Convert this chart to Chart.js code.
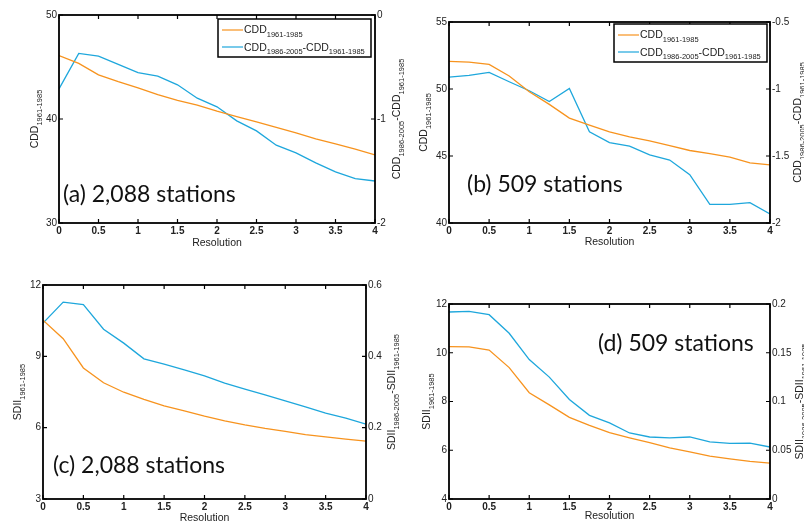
<!DOCTYPE html>
<html>
<head>
<meta charset="utf-8">
<script src="https://cdn.jsdelivr.net/npm/chart.js@4.4.1/dist/chart.umd.min.js"></script>
<style>
  html, body { margin: 0; padding: 0; background: #fff; }
  #wrap { position: relative; width: 804px; height: 524px; overflow: hidden; }
  #wrap canvas { position: absolute; left: 0; top: 0; }
</style>
</head>
<body>
<div id="wrap"></div>
<script>
// resolution (degrees) - shared x values
const resolution = [0, 0.25, 0.5, 0.75, 1, 1.25, 1.5, 1.75, 2, 2.25, 2.5, 2.75, 3, 3.25, 3.5, 3.75, 4];
const xTicks = [0, 0.5, 1, 1.5, 2, 2.5, 3, 3.5, 4];

// (a) 2,088 stations
const cddA = [46.1, 45.35, 44.25, 43.6, 43.0, 42.35, 41.8, 41.33, 40.75, 40.24, 39.73, 39.2, 38.67, 38.1, 37.6, 37.1, 36.55];
const cddDiffA = [-0.71, -0.37, -0.395, -0.475, -0.555, -0.587, -0.671, -0.80, -0.883, -1.018, -1.114, -1.252, -1.326, -1.422, -1.509, -1.573, -1.596];
const ticksA = [30, 40, 50];
const ticksA2 = [-2, -1, 0];

// (b) 509 stations
const cddB = [52.06, 52.0, 51.84, 50.97, 49.8, 48.85, 47.83, 47.3, 46.8, 46.43, 46.13, 45.78, 45.41, 45.18, 44.91, 44.49, 44.34];
const cddDiffB = [-0.911, -0.899, -0.876, -0.946, -1.013, -1.093, -0.996, -1.32, -1.40, -1.427, -1.492, -1.53, -1.639, -1.861, -1.861, -1.848, -1.933];
const ticksB = [40, 45, 50, 55];
const ticksB2 = [-2, -1.5, -1, -0.5];

// (c) 2,088 stations
const sdiiC = [10.52, 9.74, 8.51, 7.89, 7.49, 7.19, 6.92, 6.71, 6.49, 6.29, 6.12, 5.97, 5.84, 5.71, 5.61, 5.52, 5.43];
const sdiiDiffC = [0.493, 0.552, 0.545, 0.476, 0.437, 0.393, 0.378, 0.362, 0.345, 0.325, 0.308, 0.292, 0.275, 0.258, 0.241, 0.227, 0.21];
const ticksC = [3, 6, 9, 12];
const ticksC2 = [0, 0.2, 0.4, 0.6];

// (d) 509 stations
const sdiiD = [10.25, 10.24, 10.11, 9.39, 8.36, 7.86, 7.35, 7.02, 6.72, 6.51, 6.31, 6.1, 5.93, 5.76, 5.65, 5.54, 5.47];
const sdiiDiffD = [0.1918, 0.1925, 0.189, 0.170, 0.143, 0.125, 0.102, 0.0858, 0.078, 0.0677, 0.0636, 0.0626, 0.0636, 0.0585, 0.057, 0.0574, 0.0533];
const ticksD = [4, 6, 8, 10, 12];
const ticksD2 = [0, 0.05, 0.1, 0.15, 0.2];

const ORANGE = '#f7931e';
const BLUE = '#1ea7dc';
const TXT = '#222';
const MAIN = '10.5px "Liberation Sans", Arial, sans-serif';
const SUB = '7.5px "Liberation Sans", Arial, sans-serif';

// draw text made of normal + subscript parts
function richWidth(ctx, parts) {
  let w = 0;
  parts.forEach(p => { ctx.font = p[1] ? SUB : MAIN; w += ctx.measureText(p[0]).width; });
  return w;
}
function drawRich(ctx, parts, x, y, rot, align) {
  ctx.save();
  ctx.translate(x, y);
  ctx.rotate(rot);
  ctx.textBaseline = 'alphabetic';
  ctx.textAlign = 'left';
  ctx.fillStyle = TXT;
  let cx = align === 'left' ? 0 : -richWidth(ctx, parts) / 2;
  parts.forEach(p => {
    ctx.font = p[1] ? SUB : MAIN;
    ctx.fillText(p[0], cx, p[1] ? 3.5 : 0);
    cx += ctx.measureText(p[0]).width;
  });
  ctx.restore();
}

const matlabBox = {
  id: 'matlabBox',
  afterDraw(chart, args, o) {
    const ctx = chart.ctx, a = chart.chartArea;
    const sx = chart.scales.x, yl = chart.scales.y, yr = chart.scales.y1;
    ctx.save();
    ctx.strokeStyle = '#000';
    ctx.lineWidth = 1.2;
    ctx.beginPath();
    sx.ticks.forEach(t => {
      const p = sx.getPixelForValue(t.value);
      ctx.moveTo(p, a.bottom); ctx.lineTo(p, a.bottom - 4);
      ctx.moveTo(p, a.top); ctx.lineTo(p, a.top + 4);
    });
    yl.ticks.forEach(t => {
      const p = yl.getPixelForValue(t.value);
      ctx.moveTo(a.left, p); ctx.lineTo(a.left + 4, p);
    });
    yr.ticks.forEach(t => {
      const p = yr.getPixelForValue(t.value);
      ctx.moveTo(a.right, p); ctx.lineTo(a.right - 4, p);
    });
    ctx.stroke();
    ctx.lineWidth = 1.8;
    ctx.strokeRect(a.left, a.top, a.right - a.left, a.bottom - a.top);

    // axis titles
    const midY = (a.top + a.bottom) / 2;
    drawRich(ctx, o.leftTitle, o.leftX, midY, -Math.PI / 2);
    drawRich(ctx, o.rightTitle, o.rightX, midY, -Math.PI / 2);
    drawRich(ctx, [['Resolution', false]], (a.left + a.right) / 2, o.xTitleY, 0);

    // legend
    if (o.legend) {
      const L = o.legend;
      ctx.fillStyle = '#fff';
      ctx.fillRect(L.x, L.y, 153, 38);
      ctx.lineWidth = 1.5;
      ctx.strokeStyle = '#000';
      ctx.strokeRect(L.x, L.y, 153, 38);
      const rows = [
        [ORANGE, [['CDD', false], ['1961-1985', true]], 11, 14],
        [BLUE, [['CDD', false], ['1986-2005', true], ['-CDD', false], ['1961-1985', true]], 28, 31.5]
      ];
      rows.forEach(r => {
        ctx.strokeStyle = r[0];
        ctx.lineWidth = 1.2;
        ctx.beginPath();
        ctx.moveTo(L.x + 4, L.y + r[2]); ctx.lineTo(L.x + 25, L.y + r[2]);
        ctx.stroke();
        drawRich(ctx, r[1], L.x + 26, L.y + r[3], 0, 'left');
      });
    }

    // panel label
    ctx.fillStyle = '#111';
    ctx.font = '23px Lato, "Open Sans", sans-serif';
    ctx.textAlign = 'left';
    ctx.textBaseline = 'alphabetic';
    ctx.fillText(o.tag, o.tagX, o.tagY);
    ctx.restore();
  }
};

function fixedTicks(arr) {
  return s => { s.ticks = arr.map(v => ({ value: v })); };
}
const fmt = v => String(parseFloat(Number(v).toFixed(3)));

function makePanel(p) {
  const cv = document.createElement('canvas');
  cv.width = 804; cv.height = 524;
  document.getElementById('wrap').appendChild(cv);
  const tickFont = { family: '"Liberation Sans", Arial, sans-serif', size: 10 };
  const noGrid = { display: false, drawTicks: false, tickLength: 0 };
  new Chart(cv.getContext('2d'), {
    type: 'line',
    data: {
      datasets: [
        {
          data: resolution.map((r, i) => ({ x: r, y: p.orange[i] })),
          borderColor: ORANGE, borderWidth: 1.3, pointRadius: 0, yAxisID: 'y'
        },
        {
          data: resolution.map((r, i) => ({ x: r, y: p.blue[i] })),
          borderColor: BLUE, borderWidth: 1.3, pointRadius: 0, yAxisID: 'y1'
        }
      ]
    },
    options: {
      responsive: false,
      animation: false,
      devicePixelRatio: 1,
      layout: {
        padding: { left: p.left - 30, right: 804 - p.right - 30, top: p.top, bottom: 524 - p.bottom - 20 }
      },
      plugins: {
        legend: { display: false },
        tooltip: { enabled: false },
        matlabBox: p.box
      },
      scales: {
        x: {
          type: 'linear', min: 0, max: 4,
          afterBuildTicks: fixedTicks(xTicks),
          afterFit: s => { s.height = 20; },
          grid: noGrid,
          border: { display: false },
          ticks: { color: TXT, padding: 2, maxRotation: 0, callback: fmt, font: { ...tickFont, weight: 'bold' } }
        },
        y: {
          position: 'left', min: p.yl[0], max: p.yl[p.yl.length - 1],
          afterBuildTicks: fixedTicks(p.yl),
          afterFit: s => { s.width = 30; },
          grid: noGrid,
          border: { display: false },
          ticks: { color: TXT, padding: 2, callback: fmt, font: tickFont }
        },
        y1: {
          position: 'right', min: p.yr[0], max: p.yr[p.yr.length - 1],
          afterBuildTicks: fixedTicks(p.yr),
          afterFit: s => { s.width = 30; },
          grid: noGrid,
          border: { display: false },
          ticks: { color: TXT, padding: 2, callback: fmt, font: tickFont }
        }
      }
    },
    plugins: [matlabBox]
  });
}

const cddLeft = [['CDD', false], ['1961-1985', true]];
const cddRight = [['CDD', false], ['1986-2005', true], ['-CDD', false], ['1961-1985', true]];
const sdiiLeft = [['SDII', false], ['1961-1985', true]];
const sdiiRight = [['SDII', false], ['1986-2005', true], ['-SDII', false], ['1961-1985', true]];

makePanel({
  left: 59, right: 375, top: 15, bottom: 223,
  orange: cddA, blue: cddDiffA, yl: ticksA, yr: ticksA2,
  box: { leftTitle: cddLeft, rightTitle: cddRight, leftX: 38, rightX: 400, xTitleY: 246,
         legend: { x: 218, y: 19 }, tag: '(a) 2,088 stations', tagX: 63, tagY: 202 }
});
makePanel({
  left: 449, right: 770, top: 22, bottom: 223,
  orange: cddB, blue: cddDiffB, yl: ticksB, yr: ticksB2,
  box: { leftTitle: cddLeft, rightTitle: cddRight, leftX: 427, rightX: 801, xTitleY: 245,
         legend: { x: 614, y: 24 }, tag: '(b) 509 stations', tagX: 467, tagY: 192 }
});
makePanel({
  left: 43, right: 366, top: 285, bottom: 499,
  orange: sdiiC, blue: sdiiDiffC, yl: ticksC, yr: ticksC2,
  box: { leftTitle: sdiiLeft, rightTitle: sdiiRight, leftX: 21, rightX: 395, xTitleY: 521,
         tag: '(c) 2,088 stations', tagX: 53, tagY: 473 }
});
makePanel({
  left: 449, right: 770, top: 304, bottom: 499,
  orange: sdiiD, blue: sdiiDiffD, yl: ticksD, yr: ticksD2,
  box: { leftTitle: sdiiLeft, rightTitle: sdiiRight, leftX: 430, rightX: 803, xTitleY: 519,
         tag: '(d) 509 stations', tagX: 598, tagY: 351 }
});
</script>
</body>
</html>
